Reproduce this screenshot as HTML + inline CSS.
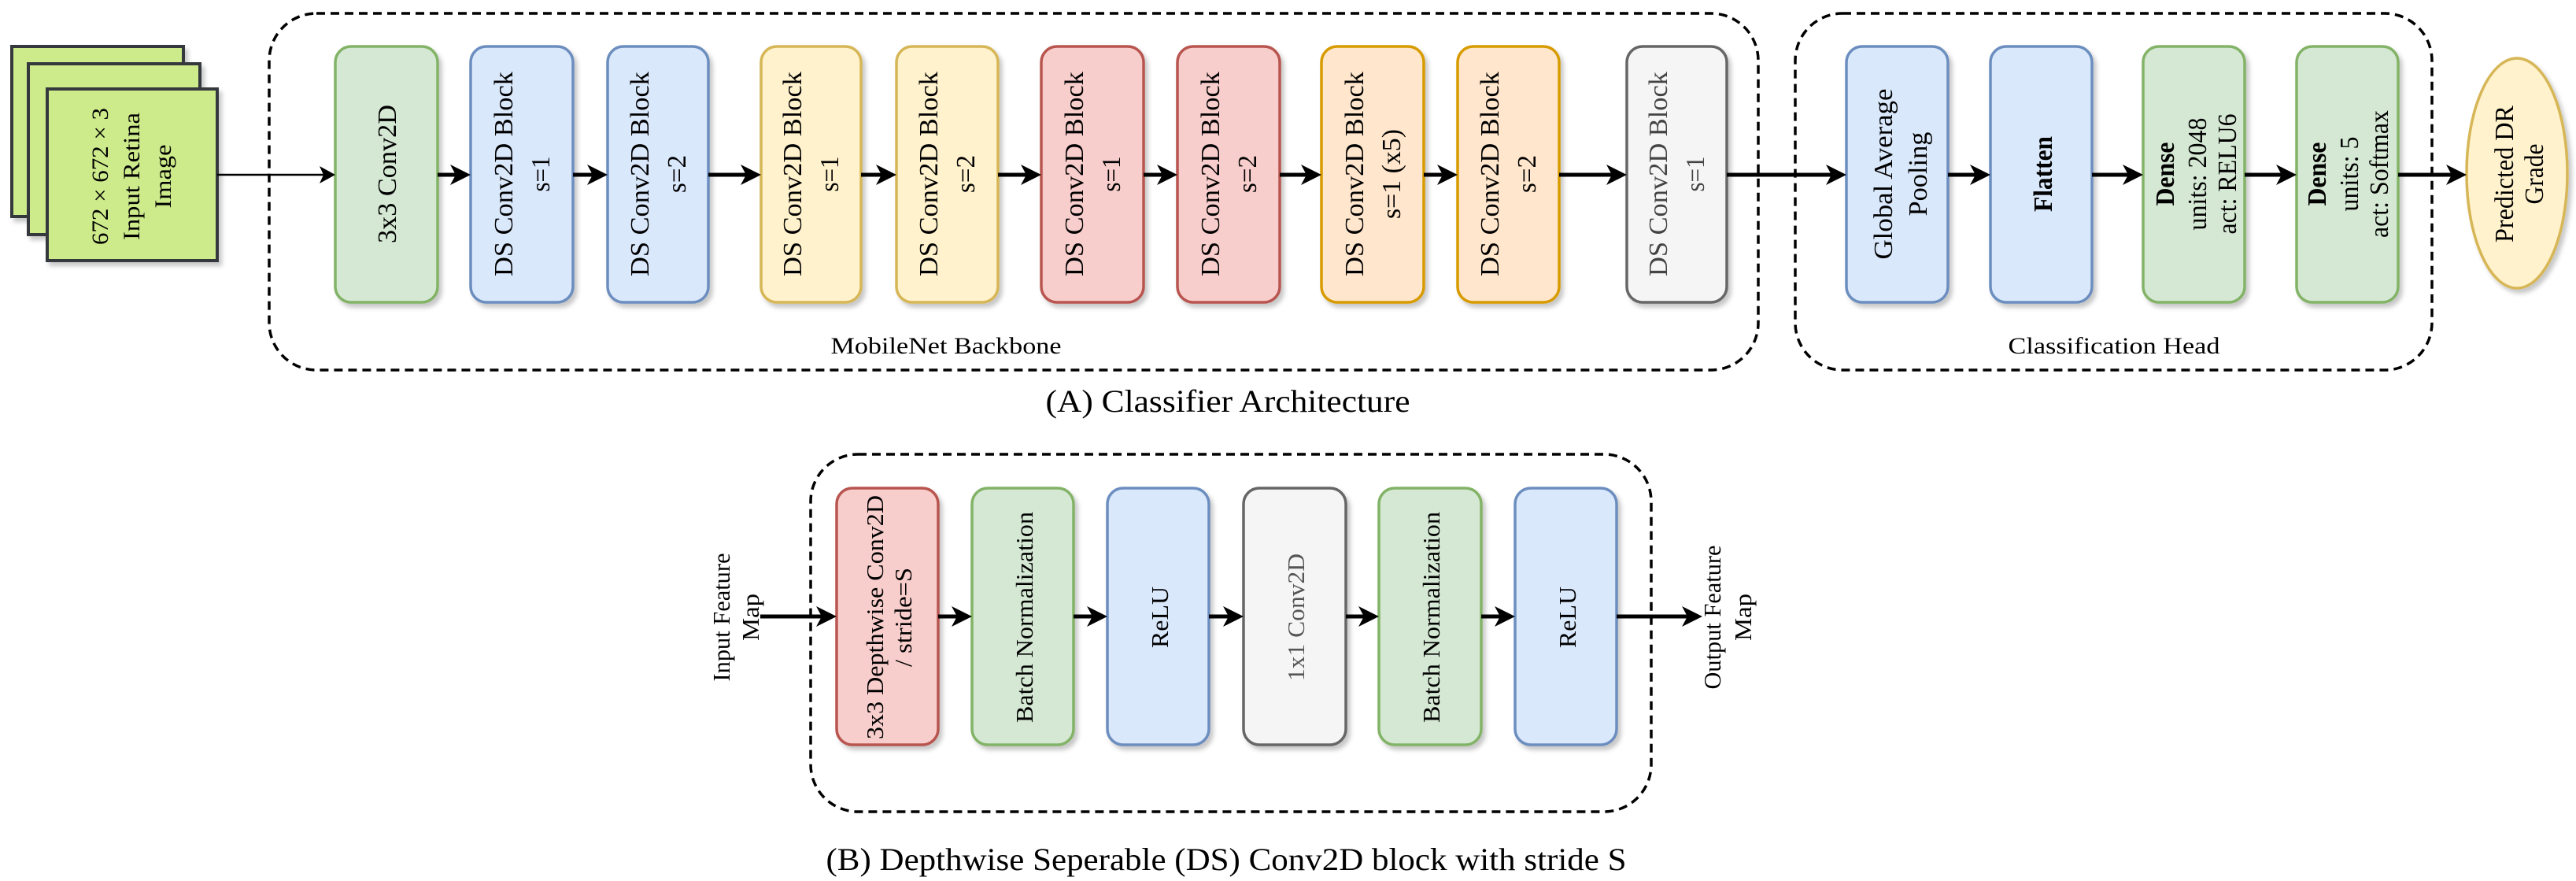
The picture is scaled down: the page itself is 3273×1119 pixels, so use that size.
<!DOCTYPE html>
<html><head><meta charset="utf-8"><style>
html,body{margin:0;padding:0;background:#fff;}
svg{display:block;font-family:"Liberation Serif","Times New Roman",serif;}
svg text{font-family:"Liberation Serif","Times New Roman",serif;fill:#000;}
</style></head><body>
<svg width="3273" height="1119" viewBox="0 0 3273 1119" xmlns="http://www.w3.org/2000/svg" font-family="Liberation Serif, Times New Roman, serif">
<defs>
<filter id="sh" x="-20%" y="-20%" width="150%" height="150%">
<feDropShadow dx="4" dy="5" stdDeviation="3" flood-color="#000" flood-opacity="0.22"/>
</filter>
</defs>

<rect x="342" y="17" width="1892" height="453" rx="60" fill="none" stroke="#000" stroke-width="3.5" stroke-dasharray="11 7"/>
<rect x="2281" y="17" width="809" height="453" rx="60" fill="none" stroke="#000" stroke-width="3.5" stroke-dasharray="11 7"/>
<rect x="1030" y="577" width="1068" height="454" rx="60" fill="none" stroke="#000" stroke-width="3.5" stroke-dasharray="11 7"/>

<g filter="url(#sh)">
<rect x="15" y="59" width="218" height="216" fill="#cdeb8b" stroke="#36393d" stroke-width="4"/>
<rect x="36" y="81" width="218" height="217" fill="#cdeb8b" stroke="#36393d" stroke-width="4"/>
<rect x="60" y="113" width="216" height="218" fill="#cdeb8b" stroke="#36393d" stroke-width="4"/>
</g>
<g transform="translate(168,224) rotate(-90)" font-size="30" font-family="Liberation Serif, serif">
<text x="0" y="-31" text-anchor="middle" textLength="174" lengthAdjust="spacingAndGlyphs">672 × 672 × 3</text>
<text x="0" y="9" text-anchor="middle" textLength="162" lengthAdjust="spacingAndGlyphs">Input Retina</text>
<text x="0" y="49" text-anchor="middle" textLength="81" lengthAdjust="spacingAndGlyphs">Image</text>
</g>

<g filter="url(#sh)" stroke-width="3.5">
<rect x="426" y="59" width="130" height="325" rx="20" fill="#d5e8d4" stroke="#82b366"/>
<rect x="598" y="59" width="130" height="325" rx="20" fill="#dae8fc" stroke="#6c8ebf"/>
<rect x="772" y="59" width="128" height="325" rx="20" fill="#dae8fc" stroke="#6c8ebf"/>
<rect x="967" y="59" width="127" height="325" rx="20" fill="#fff2cc" stroke="#d6b656"/>
<rect x="1139" y="59" width="129" height="325" rx="20" fill="#fff2cc" stroke="#d6b656"/>
<rect x="1323" y="59" width="130" height="325" rx="20" fill="#f8cecc" stroke="#b85450"/>
<rect x="1496" y="59" width="130" height="325" rx="20" fill="#f8cecc" stroke="#b85450"/>
<rect x="1679" y="59" width="130" height="325" rx="20" fill="#ffe6cc" stroke="#d79b00"/>
<rect x="1852" y="59" width="129" height="325" rx="20" fill="#ffe6cc" stroke="#d79b00"/>
<rect x="2067" y="59" width="127" height="325" rx="20" fill="#f5f5f5" stroke="#666666"/>
<rect x="2346" y="59" width="129" height="325" rx="20" fill="#dae8fc" stroke="#6c8ebf"/>
<rect x="2529" y="59" width="129" height="325" rx="20" fill="#dae8fc" stroke="#6c8ebf"/>
<rect x="2723" y="59" width="129" height="325" rx="20" fill="#d5e8d4" stroke="#82b366"/>
<rect x="2918" y="59" width="129" height="325" rx="20" fill="#d5e8d4" stroke="#82b366"/>
<ellipse cx="3198" cy="220" rx="64" ry="146" fill="#fff2cc" stroke="#d6b656"/>
</g>

<g font-size="34" font-family="Liberation Serif, serif">
<g transform="translate(491,221) rotate(-90)"><text x="0" y="12" text-anchor="middle" textLength="176" lengthAdjust="spacingAndGlyphs">3x3 Conv2D</text></g>
<g transform="translate(663,221) rotate(-90)"><text x="0" y="-12" text-anchor="middle" textLength="260" lengthAdjust="spacingAndGlyphs">DS Conv2D Block</text><text x="0" y="35" text-anchor="middle" textLength="45" lengthAdjust="spacingAndGlyphs">s=1</text></g>
<g transform="translate(836,221) rotate(-90)"><text x="0" y="-12" text-anchor="middle" textLength="260" lengthAdjust="spacingAndGlyphs">DS Conv2D Block</text><text x="0" y="35" text-anchor="middle" textLength="48" lengthAdjust="spacingAndGlyphs">s=2</text></g>
<g transform="translate(1030,221) rotate(-90)"><text x="0" y="-12" text-anchor="middle" textLength="260" lengthAdjust="spacingAndGlyphs">DS Conv2D Block</text><text x="0" y="35" text-anchor="middle" textLength="45" lengthAdjust="spacingAndGlyphs">s=1</text></g>
<g transform="translate(1203,221) rotate(-90)"><text x="0" y="-12" text-anchor="middle" textLength="260" lengthAdjust="spacingAndGlyphs">DS Conv2D Block</text><text x="0" y="35" text-anchor="middle" textLength="48" lengthAdjust="spacingAndGlyphs">s=2</text></g>
<g transform="translate(1388,221) rotate(-90)"><text x="0" y="-12" text-anchor="middle" textLength="260" lengthAdjust="spacingAndGlyphs">DS Conv2D Block</text><text x="0" y="35" text-anchor="middle" textLength="45" lengthAdjust="spacingAndGlyphs">s=1</text></g>
<g transform="translate(1561,221) rotate(-90)"><text x="0" y="-12" text-anchor="middle" textLength="260" lengthAdjust="spacingAndGlyphs">DS Conv2D Block</text><text x="0" y="35" text-anchor="middle" textLength="48" lengthAdjust="spacingAndGlyphs">s=2</text></g>
<g transform="translate(1744,221) rotate(-90)"><text x="0" y="-12" text-anchor="middle" textLength="260" lengthAdjust="spacingAndGlyphs">DS Conv2D Block</text><text x="0" y="35" text-anchor="middle" textLength="114" lengthAdjust="spacingAndGlyphs">s=1 (x5)</text></g>
<g transform="translate(1916,221) rotate(-90)"><text x="0" y="-12" text-anchor="middle" textLength="260" lengthAdjust="spacingAndGlyphs">DS Conv2D Block</text><text x="0" y="35" text-anchor="middle" textLength="48" lengthAdjust="spacingAndGlyphs">s=2</text></g>
<g transform="translate(2130,221) rotate(-90)"><text x="0" y="-12" text-anchor="middle" textLength="260" lengthAdjust="spacingAndGlyphs" style="fill:#444">DS Conv2D Block</text><text x="0" y="35" text-anchor="middle" textLength="45" lengthAdjust="spacingAndGlyphs" style="fill:#444">s=1</text></g>

<g transform="translate(2413,221) rotate(-90)"><text x="0" y="-9" text-anchor="middle" textLength="217" lengthAdjust="spacingAndGlyphs">Global Average</text><text x="0" y="35" text-anchor="middle" textLength="107" lengthAdjust="spacingAndGlyphs">Pooling</text></g>
<g transform="translate(2595,221) rotate(-90)"><text x="0" y="12" text-anchor="middle" font-weight="bold" textLength="96" lengthAdjust="spacingAndGlyphs">Flatten</text></g>
<g transform="translate(2790,221) rotate(-90)"><text x="0" y="-28" text-anchor="middle" font-weight="bold" textLength="81" lengthAdjust="spacingAndGlyphs">Dense</text><text x="0" y="13" text-anchor="middle" textLength="143" lengthAdjust="spacingAndGlyphs">units: 2048</text><text x="0" y="51" text-anchor="middle" textLength="153" lengthAdjust="spacingAndGlyphs">act: RELU6</text></g>
<g transform="translate(2983,221) rotate(-90)"><text x="0" y="-28" text-anchor="middle" font-weight="bold" textLength="81" lengthAdjust="spacingAndGlyphs">Dense</text><text x="0" y="13" text-anchor="middle" textLength="95" lengthAdjust="spacingAndGlyphs">units: 5</text><text x="0" y="51" text-anchor="middle" textLength="162" lengthAdjust="spacingAndGlyphs">act: Softmax</text></g>
<g transform="translate(3200,221) rotate(-90)"><text x="0" y="-7" text-anchor="middle" textLength="174" lengthAdjust="spacingAndGlyphs">Predicted DR</text><text x="0" y="31" text-anchor="middle" textLength="77" lengthAdjust="spacingAndGlyphs">Grade</text></g>
</g>

<g stroke="#000" fill="none">
<line x1="276" y1="222" x2="414" y2="222" stroke-width="2.5"/>
<line x1="556" y1="222" x2="580" y2="222" stroke-width="5"/>
<line x1="728" y1="222" x2="754" y2="222" stroke-width="5"/>
<line x1="900" y1="222" x2="949" y2="222" stroke-width="5"/>
<line x1="1094" y1="222" x2="1121" y2="222" stroke-width="5"/>
<line x1="1268" y1="222" x2="1305" y2="222" stroke-width="5"/>
<line x1="1453" y1="222" x2="1478" y2="222" stroke-width="5"/>
<line x1="1626" y1="222" x2="1661" y2="222" stroke-width="5"/>
<line x1="1809" y1="222" x2="1834" y2="222" stroke-width="5"/>
<line x1="1981" y1="222" x2="2049" y2="222" stroke-width="5"/>
<line x1="2194" y1="222" x2="2328" y2="222" stroke-width="5"/>
<line x1="2475" y1="222" x2="2511" y2="222" stroke-width="5"/>
<line x1="2658" y1="222" x2="2705" y2="222" stroke-width="5"/>
<line x1="2852" y1="222" x2="2900" y2="222" stroke-width="5"/>
<line x1="3047" y1="222" x2="3116" y2="222" stroke-width="5"/>
</g>
<g fill="#000">
<path d="M426 222 L406 211 L411 222 L406 233 Z"/>
<path d="M598 222 L572 209 L579 222 L572 235 Z"/>
<path d="M772 222 L746 209 L753 222 L746 235 Z"/>
<path d="M967 222 L941 209 L948 222 L941 235 Z"/>
<path d="M1139 222 L1113 209 L1120 222 L1113 235 Z"/>
<path d="M1323 222 L1297 209 L1304 222 L1297 235 Z"/>
<path d="M1496 222 L1470 209 L1477 222 L1470 235 Z"/>
<path d="M1679 222 L1653 209 L1660 222 L1653 235 Z"/>
<path d="M1852 222 L1826 209 L1833 222 L1826 235 Z"/>
<path d="M2067 222 L2041 209 L2048 222 L2041 235 Z"/>
<path d="M2346 222 L2320 209 L2327 222 L2320 235 Z"/>
<path d="M2529 222 L2503 209 L2510 222 L2503 235 Z"/>
<path d="M2723 222 L2697 209 L2704 222 L2697 235 Z"/>
<path d="M2918 222 L2892 209 L2899 222 L2892 235 Z"/>
<path d="M3134 222 L3108 209 L3115 222 L3108 235 Z"/>
</g>

<g font-family="Liberation Serif, serif">
<text x="1202" y="449" font-size="30" text-anchor="middle" textLength="293" lengthAdjust="spacingAndGlyphs">MobileNet Backbone</text>
<text x="2686" y="449" font-size="30" text-anchor="middle" textLength="269" lengthAdjust="spacingAndGlyphs">Classification Head</text>
<text x="1560" y="523" font-size="40" text-anchor="middle" textLength="463" lengthAdjust="spacingAndGlyphs">(A) Classifier Architecture</text>
</g>

<g filter="url(#sh)" stroke-width="3.5">
<rect x="1063" y="620" width="129" height="326" rx="20" fill="#f8cecc" stroke="#b85450"/>
<rect x="1235" y="620" width="129" height="326" rx="20" fill="#d5e8d4" stroke="#82b366"/>
<rect x="1407" y="620" width="129" height="326" rx="20" fill="#dae8fc" stroke="#6c8ebf"/>
<rect x="1580" y="620" width="130" height="326" rx="20" fill="#f5f5f5" stroke="#666666"/>
<rect x="1752" y="620" width="130" height="326" rx="20" fill="#d5e8d4" stroke="#82b366"/>
<rect x="1925" y="620" width="129" height="326" rx="20" fill="#dae8fc" stroke="#6c8ebf"/>
</g>
<g font-size="31" font-family="Liberation Serif, serif">
<g transform="translate(1128,784) rotate(-90)"><text x="0" y="-6" text-anchor="middle" textLength="310" lengthAdjust="spacingAndGlyphs">3x3 Depthwise Conv2D</text><text x="0" y="30" text-anchor="middle" textLength="126" lengthAdjust="spacingAndGlyphs">/ stride=S</text></g>
<g transform="translate(1300,784) rotate(-90)"><text x="0" y="12" text-anchor="middle" textLength="268" lengthAdjust="spacingAndGlyphs">Batch Normalization</text></g>
<g transform="translate(1472,784) rotate(-90)"><text x="0" y="12" text-anchor="middle" textLength="78" lengthAdjust="spacingAndGlyphs">ReLU</text></g>
<g transform="translate(1645,784) rotate(-90)"><text x="0" y="12" text-anchor="middle" textLength="162" lengthAdjust="spacingAndGlyphs" style="fill:#555">1x1 Conv2D</text></g>
<g transform="translate(1817,784) rotate(-90)"><text x="0" y="12" text-anchor="middle" textLength="268" lengthAdjust="spacingAndGlyphs">Batch Normalization</text></g>
<g transform="translate(1990,784) rotate(-90)"><text x="0" y="12" text-anchor="middle" textLength="78" lengthAdjust="spacingAndGlyphs">ReLU</text></g>
<g transform="translate(935,784) rotate(-90)"><text x="0" y="-8" text-anchor="middle" textLength="163" lengthAdjust="spacingAndGlyphs">Input Feature</text><text x="0" y="29" text-anchor="middle" textLength="60" lengthAdjust="spacingAndGlyphs">Map</text></g>
<g transform="translate(2194,784) rotate(-90)"><text x="0" y="-8" text-anchor="middle" textLength="183" lengthAdjust="spacingAndGlyphs">Output Feature</text><text x="0" y="31" text-anchor="middle" textLength="60" lengthAdjust="spacingAndGlyphs">Map</text></g>
</g>

<g stroke="#000" fill="none" stroke-width="5">
<line x1="966" y1="783" x2="1045" y2="783"/>
<line x1="1192" y1="783" x2="1217" y2="783"/>
<line x1="1364" y1="783" x2="1389" y2="783"/>
<line x1="1536" y1="783" x2="1562" y2="783"/>
<line x1="1710" y1="783" x2="1734" y2="783"/>
<line x1="1882" y1="783" x2="1907" y2="783"/>
<line x1="2054" y1="783" x2="2145" y2="783"/>
</g>
<g fill="#000">
<path d="M1063 783 L1037 770 L1044 783 L1037 796 Z"/>
<path d="M1235 783 L1209 770 L1216 783 L1209 796 Z"/>
<path d="M1407 783 L1381 770 L1388 783 L1381 796 Z"/>
<path d="M1580 783 L1554 770 L1561 783 L1554 796 Z"/>
<path d="M1752 783 L1726 770 L1733 783 L1726 796 Z"/>
<path d="M1925 783 L1899 770 L1906 783 L1899 796 Z"/>
<path d="M2163 783 L2137 770 L2144 783 L2137 796 Z"/>
</g>

<text x="1558" y="1105" font-size="40" font-family="Liberation Serif, serif" text-anchor="middle" textLength="1017" lengthAdjust="spacingAndGlyphs">(B) Depthwise Seperable (DS) Conv2D block with stride S</text>
</svg>
</body></html>
